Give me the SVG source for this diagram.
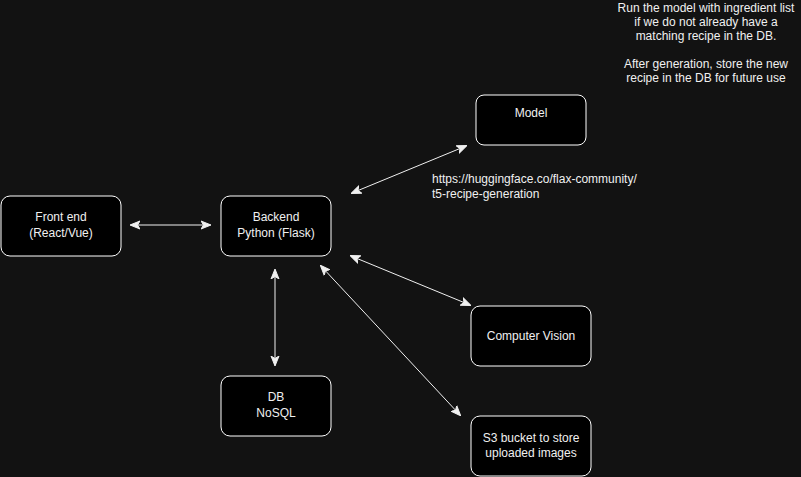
<svg xmlns="http://www.w3.org/2000/svg" width="801" height="477" viewBox="0 0 801 477">
<style>
.node rect{fill:#000;stroke:#fff;stroke-width:1}
text{font-family:"Liberation Sans",Arial,sans-serif;font-size:12px;fill:#f0f0f0}
.c{text-anchor:middle}
.edge{stroke:#f0f0f0;stroke-width:1;fill:none;marker-start:url(#a);marker-end:url(#a)}
</style>
<defs>
<marker id="a" viewBox="0 0 10 10" refX="9" refY="5" markerWidth="10" markerHeight="10" markerUnits="userSpaceOnUse" orient="auto-start-reverse">
<path d="M0,1 L10,5 L0,9 L2.5,5 Z" fill="#f0f0f0" stroke="#f0f0f0" stroke-width="1"/>
</marker>
</defs>
<rect width="801" height="477" fill="#121212"/>
<g id="connectors">
<line class="edge" x1="131" y1="225" x2="210" y2="225"/>
<line class="edge" x1="352" y1="193" x2="466" y2="146"/>
<line class="edge" x1="351" y1="256" x2="470" y2="305"/>
<line class="edge" x1="321" y1="266" x2="460" y2="415"/>
<line class="edge" x1="275" y1="270" x2="275" y2="365"/>
</g>
<g id="frontend" class="node"><rect x="1" y="196" width="120" height="60" rx="9"/><text class="c" x="61" y="221">Front end</text><text class="c" x="61" y="237">(React/Vue)</text></g>
<g id="backend" class="node"><rect x="221" y="196" width="110" height="60" rx="9"/><text class="c" x="276" y="221">Backend</text><text class="c" x="276" y="237">Python (Flask)</text></g>
<g id="model" class="node"><rect x="476" y="95" width="110" height="50" rx="8"/><text class="c" x="531" y="117">Model</text></g>
<g id="cv" class="node"><rect x="471" y="306" width="120" height="60" rx="9"/><text class="c" x="531" y="340">Computer Vision</text></g>
<g id="s3" class="node"><rect x="471" y="416" width="120" height="60" rx="9"/><text class="c" x="531" y="442">S3 bucket to store</text><text class="c" x="531" y="457">uploaded images</text></g>
<g id="db" class="node"><rect x="221" y="376" width="110" height="60" rx="9"/><text class="c" x="276" y="401">DB</text><text class="c" x="276" y="417">NoSQL</text></g>
<g id="url-label"><text x="432" y="183">https://huggingface.co/flax-community/</text><text x="432" y="198">t5-recipe-generation</text></g>
<g id="note">
<text class="c" x="706" y="12">Run the model with ingredient list</text>
<text class="c" x="706" y="26">if we do not already have a</text>
<text class="c" x="706" y="40">matching recipe in the DB.</text>
<text class="c" x="706" y="68">After generation, store the new</text>
<text class="c" x="706" y="82">recipe in the DB for future use</text>
</g>
</svg>
